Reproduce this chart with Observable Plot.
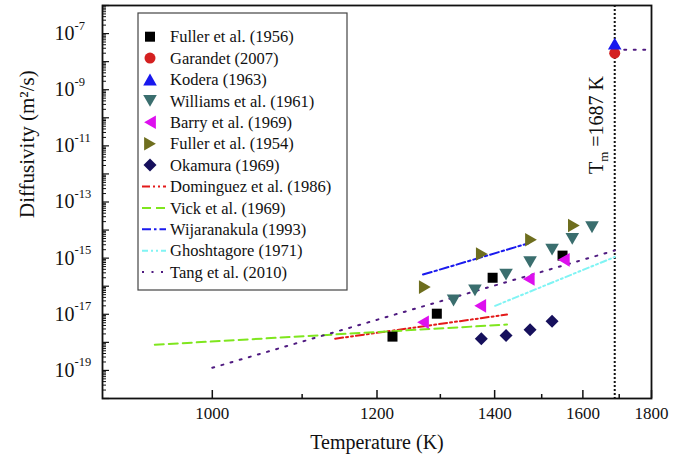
<!DOCTYPE html>
<html><head><meta charset="utf-8">
<script src="https://cdn.jsdelivr.net/npm/d3@7"></script>
<script src="https://cdn.jsdelivr.net/npm/@observablehq/plot@0.6"></script>
<style>
html,body{margin:0;padding:0;background:#fff;}
#wrap{position:relative;width:686px;height:466px;}
</style></head><body><div id="wrap"></div>
<script>
// ---- data (temperature in K, diffusivity in m^2/s) ----
const fuller1956T = [1223, 1294, 1396, 1549];
const fuller1956D = [1.6e-18, 1.05e-17, 2.0e-16, 1.23e-15];
const garandetT = [1687];
const garandetD = [2.0e-8];
const koderaT = [1687];
const koderaD = [4.4e-8];
const williamsT = [1323, 1362, 1423, 1474, 1524, 1573, 1624];
const williamsD = [3.1e-17, 7.1e-17, 2.6e-16, 7.2e-16, 2.0e-15, 4.9e-15, 1.26e-14];
const barryT = [1271, 1372, 1471, 1552];
const barryD = [5.2e-18, 2.0e-17, 1.8e-16, 8.7e-16];
const fuller1954T = [1274, 1375, 1476, 1577];
const fuller1954D = [9.3e-17, 1.4e-15, 4.5e-15, 1.45e-14];
const okamuraT = [1374, 1423, 1474, 1524];
const okamuraD = [1.35e-18, 1.75e-18, 2.8e-18, 5.6e-18];

const dominguezT = [1142, 1425];
const dominguezD = [1.35e-18, 9.8e-18];
const vickT = [945, 1425];
const vickD = [8.2e-19, 4.3e-18];
const wijaranakulaT = [1271, 1471];
const wijaranakulaD = [2.6e-16, 3.4e-15];
const ghoshtagoreT = [1401, 1687];
const ghoshtagoreD = [2.0e-17, 1.1e-15];
const tangSolidT = [1000, 1687];
const tangSolidD = [1.24e-19, 1.87e-15];
const tangLiquidT = [1687, 1800];
const tangLiquidD = [2.65e-8, 2.65e-8];

const meltingT = 1687;
const xMajorTicks = [1000, 1200, 1400, 1600, 1800];
const xMinorTicks = [1100, 1300, 1500, 1700];
const yLabelExponents = [-19, -17, -15, -13, -11, -9, -7];
const yDecadeExponents = d3.range(-20, -5);

// ---- symbols ----
function sym(fn){ return {draw(c, size){ const r = Math.sqrt(size/Math.PI); fn(c, r); }}; }
const symSquare = sym((c,r)=>{ c.moveTo(-r,-r); c.lineTo(r,-r); c.lineTo(r,r); c.lineTo(-r,r); c.closePath(); });
const symCircle = sym((c,r)=>{ c.moveTo(r,0); c.arc(0,0,r,0,2*Math.PI); });
const symUp = sym((c,r)=>{ const h=r*0.866; c.moveTo(0,-h); c.lineTo(r,h); c.lineTo(-r,h); c.closePath(); });
const symDown = sym((c,r)=>{ const h=r*0.866; c.moveTo(-r,-h); c.lineTo(r,-h); c.lineTo(0,h); c.closePath(); });
const symLeft = sym((c,r)=>{ const h=r*0.866; c.moveTo(-h,0); c.lineTo(h,-r); c.lineTo(h,r); c.closePath(); });
const symRight = sym((c,r)=>{ const h=r*0.866; c.moveTo(h,0); c.lineTo(-h,-r); c.lineTo(-h,r); c.closePath(); });
const symDiamond = sym((c,r)=>{ c.moveTo(0,-r); c.lineTo(r,0); c.lineTo(0,r); c.lineTo(-r,0); c.closePath(); });

const pointSeries = [
  {name:"Fuller et al. (1956)", T:fuller1956T, D:fuller1956D, color:"#000000", symbol:symSquare, r:5},
  {name:"Garandet (2007)", T:garandetT, D:garandetD, color:"#d42020", symbol:symCircle, r:5.5},
  {name:"Kodera (1963)", T:koderaT, D:koderaD, color:"#1818ee", symbol:symUp, r:6.8},
  {name:"Williams et al. (1961)", T:williamsT, D:williamsD, color:"#3a6e6e", symbol:symDown, r:6.8},
  {name:"Barry et al. (1969)", T:barryT, D:barryD, color:"#dd10ee", symbol:symLeft, r:6.8},
  {name:"Fuller et al. (1954)", T:fuller1954T, D:fuller1954D, color:"#6e6e1e", symbol:symRight, r:6.8},
  {name:"Okamura (1969)", T:okamuraT, D:okamuraD, color:"#16105c", symbol:symDiamond, r:6.5}
];
const lineSeries = [
  {name:"Dominguez et al. (1986)", parts:[[dominguezT, dominguezD]], color:"#e31a1a", dash:"8,3,2,3,2,3"},
  {name:"Vick et al. (1969)", parts:[[vickT, vickD]], color:"#7fe61e", dash:"9,5"},
  {name:"Wijaranakula (1993)", parts:[[wijaranakulaT, wijaranakulaD]], color:"#1a1aee", dash:"9,3,2.5,3"},
  {name:"Ghoshtagore (1971)", parts:[[ghoshtagoreT, ghoshtagoreD]], color:"#80f4f4", dash:"6,3,2,3,2,3"},
  {name:"Tang et al. (2010)", parts:[[tangSolidT, tangSolidD],[tangLiquidT, tangLiquidD]], color:"#4f1a80", dash:"2,7.5"}
];

const W=686, H=466, mL=102, mR=35, mT=5, mB=68;
const fW = W-mL-mR, fH = H-mT-mB;
const font = "Liberation Serif, Times New Roman, serif";

const yMinor = [];
for (let e=-20; e<-6; e++) for (let k=2;k<=9;k++) yMinor.push(k*Math.pow(10,e));

const marks = [
  Plot.ruleX([meltingT], {x: t=>1/t, stroke:"#111", strokeWidth:2, strokeDasharray:"2,2"}),
];
for (const s of lineSeries) {
  for (const [Ts, Ds] of s.parts) {
    const rows = Ts.map((t,i)=>({T:t, D:Ds[i]}));
    marks.push(Plot.line(rows, {x:d=>1/d.T, y:"D", stroke:s.color, strokeWidth:2, strokeDasharray:s.dash}));
  }
}
for (const s of pointSeries) {
  const rows = s.T.map((t,i)=>({T:t, D:s.D[i]}));
  marks.push(Plot.dot(rows, {x:d=>1/d.T, y:"D", symbol:s.symbol, r:s.r, fill:s.color, stroke:"none"}));
}
marks.push(
  Plot.frame({stroke:"#111", strokeWidth:1.8}),
  Plot.ruleX(xMajorTicks, {x:t=>1/t, insetTop:fH-8, stroke:"#111", strokeWidth:1.5}),
  Plot.ruleX(xMinorTicks, {x:t=>1/t, insetTop:fH-4, stroke:"#111", strokeWidth:1.5}),
  Plot.ruleY(yDecadeExponents, {y:e=>Math.pow(10,e), insetRight:fW-7, stroke:"#111", strokeWidth:1.2}),
  Plot.ruleY(yMinor, {y:d=>d, insetRight:fW-4, stroke:"#111", strokeWidth:1}),
  Plot.text(xMajorTicks, {x:t=>1/t, text:t=>String(t), frameAnchor:"bottom", dy:20, fontSize:17, fill:"#111"}),
  Plot.text(yLabelExponents, {y:e=>Math.pow(10,e), text:()=>"10", frameAnchor:"left", textAnchor:"end", dx:-28, fontSize:20, fill:"#111"}),
  Plot.text(yLabelExponents, {y:e=>Math.pow(10,e), text:e=>String(e), frameAnchor:"left", textAnchor:"start", dx:-28, dy:-8, fontSize:12.5, fill:"#111"}),
  Plot.text(["Temperature (K)"], {frameAnchor:"bottom", dy:50, fontSize:20, fill:"#111"}),
  Plot.text(["Diffusivity (m²/s)"], {frameAnchor:"left", rotate:-90, dx:-75, dy:16, fontSize:21, fill:"#111"})
);

const plot = Plot.plot({
  width:W, height:H, marginLeft:mL, marginRight:mR, marginTop:mT, marginBottom:mB,
  x:{type:"linear", domain:[1/900, 1/1800], axis:null},
  y:{type:"log", domain:[1e-20, 1e-6], axis:null},
  style:{fontFamily:font, background:"white"},
  marks
});
document.getElementById("wrap").appendChild(plot);

// ---- annotation: melting temperature ----
const svg = d3.select(plot);
const xs = plot.scale("x");
const xTm = xs.apply(1/meltingT);
const ann = svg.append("text")
  .attr("transform", `translate(${xTm-11},76) rotate(-90)`)
  .attr("text-anchor","end").attr("font-family",font).attr("font-size",20).attr("fill","#111");
ann.append("tspan").text("T");
ann.append("tspan").attr("dy",5).attr("font-size",13).text("m");
ann.append("tspan").attr("dy",-5).text(" =1687 K");

// ---- legend ----
const lg = svg.append("g").attr("font-family",font).attr("font-size",16.5).attr("text-anchor","start");
lg.append("rect").attr("x",138).attr("y",13).attr("width",209).attr("height",277)
  .attr("fill","white").attr("stroke","#444").attr("stroke-width",1.2);
const entries = [...pointSeries.map(s=>({...s, kind:"pt"})), ...lineSeries.map(s=>({...s, kind:"ln"}))];
entries.forEach((s,i)=>{
  const y = 36.7 + i*21.4;
  if (s.kind==="pt") {
    lg.append("path").attr("d", d3.symbol(s.symbol, s.r*s.r*Math.PI)()).attr("transform",`translate(150,${y})`).attr("fill",s.color);
  } else {
    lg.append("line").attr("x1",142).attr("x2",166).attr("y1",y).attr("y2",y)
      .attr("stroke",s.color).attr("stroke-width",2).attr("stroke-dasharray",s.dash);
  }
  lg.append("text").attr("x",170).attr("y",y).attr("dy","0.35em").attr("text-anchor","start").attr("fill","#111").text(s.name);
});
</script></body></html>
